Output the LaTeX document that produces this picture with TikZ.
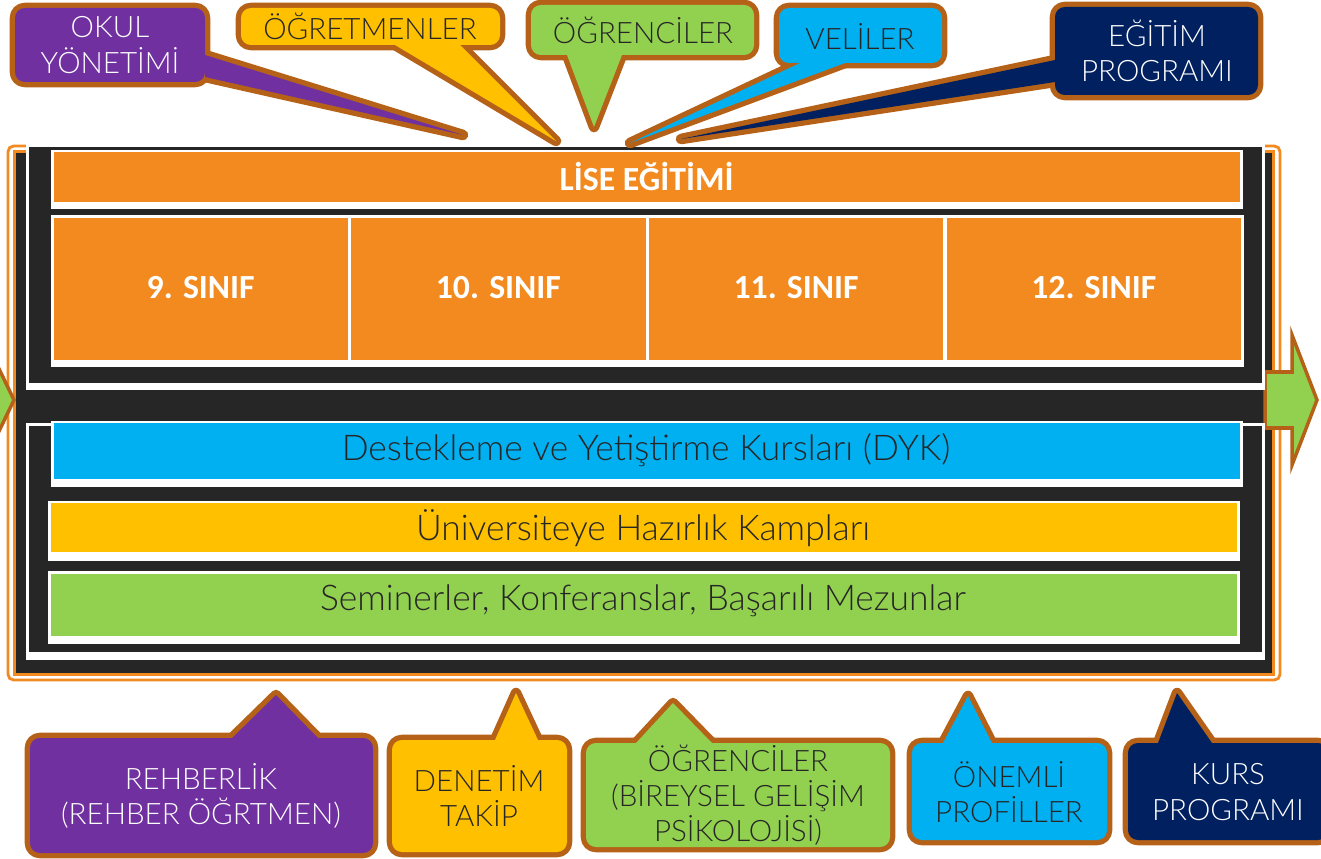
\documentclass[tikz,border=0pt]{standalone}
\usepackage{fontspec}
\setmainfont{Lato Light}
\newfontfamily\boldfont{Carlito}
\usepackage{xcolor}
\definecolor{org}{RGB}{242,138,31}
\definecolor{dark}{RGB}{38,38,38}
\definecolor{brd}{RGB}{181,98,24}
\definecolor{purp}{RGB}{112,48,160}
\definecolor{gold}{RGB}{255,192,0}
\definecolor{grn}{RGB}{146,208,80}
\definecolor{sky}{RGB}{0,176,240}
\definecolor{navy}{RGB}{0,32,96}

\newcommand{\callbox}[6]{%
  \draw[cline, rounded corners=7pt] (#2) rectangle (#3);
  \draw[cline] (#4) -- (#5) -- (#6);
  \fill[#1, rounded corners=7pt] (#2) rectangle (#3);
  \fill[#1] (#4) -- (#5) -- (#6) -- cycle;}

\begin{document}
\begin{tikzpicture}[x=0.025cm,y=-0.025cm,
  cline/.style={draw=brd, line width=7.5pt, line join=round},
  orgline/.style={draw=org, line width=2pt},
  arrowline/.style={draw=brd, fill=grn, line width=2.5pt},
  ltxt/.style={font=\fontsize{21}{25}\selectfont, align=center, text=dark},
  wtxt/.style={ltxt, text=white},
  btxt/.style={font=\boldfont\bfseries\fontsize{24}{28}\selectfont, text=white},
  bartxt/.style={font=\fontsize{25.2}{29}\selectfont, text=dark}]
\useasboundingbox (0,0) rectangle (1321,859);
\draw[orgline, rounded corners=4pt, fill=white] (8,146) rectangle (1280,680);
\draw[orgline, fill=dark] (14.5,151.5) rectangle (1273.5,674.5);
\draw[arrowline] (1265,372) -- (1292,372) -- (1292,335) -- (1317,400) -- (1292,465) -- (1292,428) -- (1265,428) -- cycle;
\draw[arrowline] (-30,372) -- (-12,372) -- (-12,346) -- (14,400) -- (-12,454) -- (-12,428) -- (-30,428) -- cycle;
\fill[white] (26,144) rectangle (1264.5,390);
\fill[dark] (29,147) rectangle (1262,383);
\fill[white] (26,423) rectangle (1264.5,660);
\fill[dark] (29,426) rectangle (1262,652);

\fill[white] (51,150) rectangle (1243,209);
\fill[org] (53.5,152) rectangle (1240,202);
\node[btxt] (lise) at (646.5,177) {LİSE EĞİTİMİ};
\foreach \i/\s in {0/9,1/10,2/11,3/12}{
  \fill[white] ({51+297.7*\i},215) rectangle ({351+297.7*\i},367);
  \fill[org] ({53.5+297.7*\i},218) rectangle ({348+297.7*\i},360);
  \node[btxt] (s\s) at ({200.7+297.7*\i},288) {\s. SINIF};
}

\fill[white] (51,421) rectangle (1243,487);
\fill[sky] (53.5,423) rectangle (1240,479);
\node[bartxt] (dyk) at (646,450) {Destekleme ve Yetiştirme Kursları (DYK)};
\fill[white] (48,501) rectangle (1239.5,561);
\fill[gold] (51,503) rectangle (1237,552);
\node[bartxt] (kamp) at (643,528) {Üniversiteye Hazırlık Kampları};
\fill[white] (48,571) rectangle (1239.5,644);
\fill[grn] (51,573.5) rectangle (1237,636);
\node[bartxt] (semi) at (643,601) {Seminerler, Konferanslar, Başarılı Mezunlar};

\callbox{purp}{15,8}{205,82}{205,55}{463,135}{205,77}
\node[wtxt] (okul) at (110,45) {OKUL\\YÖNETİMİ};
\callbox{gold}{241,8}{500,45}{395,45}{556,141}{460,45}
\node[ltxt] (ogrt) at (370,26) {ÖĞRETMENLER};
\callbox{grn}{531,5}{754,55}{567,55}{594,127}{622,55}
\node[ltxt] (ogrc) at (643,30) {ÖĞRENCİLER};
\callbox{sky}{779,8}{942,63}{800,63}{630,143}{845,63}
\node[ltxt] (veli) at (860,36) {VELİLER};
\callbox{navy}{1055,7}{1258,95}{1055,60}{681,139}{1055,82}
\node[wtxt] (egit) at (1157,51) {EĞİTİM\\PROGRAMI};

\callbox{purp}{30,738}{373,853}{232,738}{276,695}{318,738}
\node[wtxt] (rehb) at (201,796) {REHBERLİK\\(REHBER ÖĞRTMEN)};
\callbox{gold}{392,740}{567,852}{495,740}{516,693}{538,740}
\node[ltxt] (dent) at (479,796) {DENETİM\\TAKİP};
\callbox{grn}{586,743}{890,847}{636,743}{673,703}{712,743}
\node[ltxt] (bire) at (738,795) {ÖĞRENCİLER\\(BİREYSEL GELİŞİM\\PSİKOLOJİSİ)};
\callbox{sky}{912,743}{1107,840}{943,743}{968,696}{992,743}
\node[ltxt] (onem) at (1009,792) {ÖNEMLİ\\PROFİLLER};
\callbox{navy}{1128,743}{1328,840}{1158,743}{1177,693}{1212,743}
\node[wtxt] (kurs) at (1228,792) {KURS\\PROGRAMI};
\end{tikzpicture}
\end{document}
